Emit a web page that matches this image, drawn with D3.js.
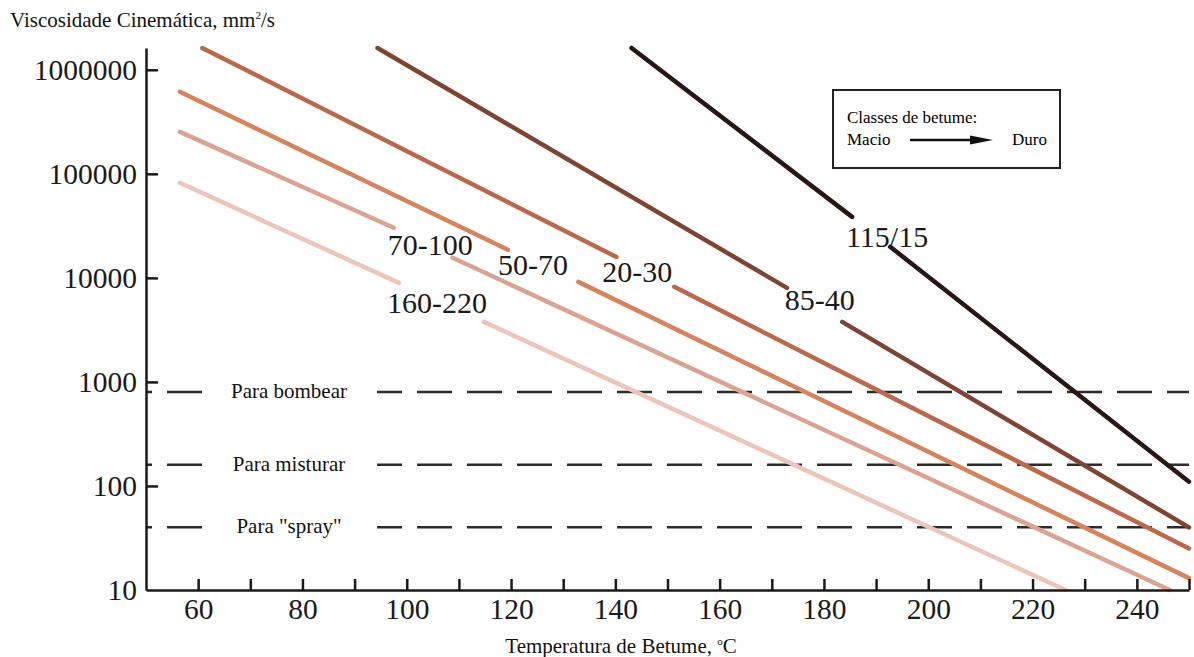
<!DOCTYPE html>
<html lang="pt">
<head>
    <meta charset="UTF-8">
    <title>Viscosidade do betume</title>
    <script src="https://d3js.org/d3.v7.min.js"></script>
    <style>
        body {
            margin: 0;
            background: #fff;
            font-family: "Liberation Serif", "Times New Roman", serif;
        }
        svg {
            display: block;
        }
        .tick line {
            stroke: #1a1a1a;
            stroke-width: 2.5;
        }
    </style>
</head>
<body>

    <div id="container"></div>

    <script>
        // bitumen grades, soft -> hard
        const grades = ['160-220', '70-100', '50-70', '20-30', '85-40', '115/15'];

        // [temperature °C, viscosity mm²/s]; null marks the gap where the label sits
        const visc160_220 = [[56.5, 82000], [98.5, 8950], [null, null], [114.8, 3780], [226.3, 10]];
        const visc70_100  = [[56.5, 253000], [97.5, 30300], [null, null], [108.8, 15600], [246.3, 10]];
        const visc50_70   = [[56.5, 614000], [119.4, 18600], [null, null], [132.9, 9150], [250, 13]];
        const visc20_30   = [[60.8, 1620000], [140.2, 15900], [null, null], [151.3, 8200], [250, 25]];
        const visc85_40   = [[94.4, 1620000], [172.9, 8020], [null, null], [183.5, 3780], [250, 40]];
        const visc115_15  = [[143.1, 1620000], [185.4, 38600], [null, null], [192.7, 19900], [250, 110]];

        // horizontal limits
        const limitNames  = ['Para bombear', 'Para misturar', 'Para "spray"'];
        const limitValues = [800, 160, 40];

        // axis ticks
        const xTicks = [60, 70, 80, 90, 100, 110, 120, 130, 140, 150, 160, 170, 180, 190, 200, 210, 220, 230, 240, 250];
        const xTickLabels = [60, 80, 100, 120, 140, 160, 180, 200, 220, 240];
        const yTicks = [10, 100, 1000, 10000, 100000, 1000000];

        const series = [visc160_220, visc70_100, visc50_70, visc20_30, visc85_40, visc115_15];
        const colors = ['#ebc6b9', '#d9a492', '#d2855f', '#b9694c', '#7d4534', '#2a1515'];
        // where each grade label is placed (data units, text baseline)
        const labelAt = [[105.8, 4590], [104.5, 16600], [124.2, 10700], [144.2, 9120], [179.2, 4910], [192.1, 19800]];

        const width = 1194, height = 657;

        const svg = d3.select('#container').append('svg')
            .attr('width', width)
            .attr('height', height);

        const x = d3.scaleLinear()
            .domain([50, 250])
            .range([146, 1189]);

        const y = d3.scaleLog()
            .domain([10, 1620000])
            .range([590, 48]);

        // dashed limit lines
        svg.selectAll('.limit')
            .data(limitValues)
            .enter()
            .append('line')
            .attr('class', 'limit')
            .attr('x1', x(50))
            .attr('x2', x(250))
            .attr('y1', d => y(d))
            .attr('y2', d => y(d))
            .attr('stroke', '#2b2b2b')
            .attr('stroke-width', 2.5)
            .attr('stroke-dasharray', '35,15')
            .attr('stroke-dashoffset', 29);

        // white boxes + labels on the dashed lines
        svg.selectAll('.limitBox')
            .data(limitValues)
            .enter()
            .append('rect')
            .attr('x', 202)
            .attr('width', 175)
            .attr('y', d => y(d) - 12)
            .attr('height', 24)
            .attr('fill', '#fff');

        svg.selectAll('.limitText')
            .data(limitNames)
            .enter()
            .append('text')
            .attr('x', 289)
            .attr('y', (d, i) => y(limitValues[i]) + 6)
            .attr('text-anchor', 'middle')
            .attr('font-size', 21)
            .attr('fill', '#111')
            .text(d => d);

        // viscosity lines
        const line = d3.line()
            .defined(d => d[0] != null)
            .x(d => x(d[0]))
            .y(d => y(d[1]));

        svg.selectAll('.grade')
            .data(series)
            .enter()
            .append('path')
            .attr('class', 'grade')
            .attr('d', line)
            .attr('fill', 'none')
            .attr('stroke', (d, i) => colors[i])
            .attr('stroke-width', 4.5)
            .attr('stroke-linecap', 'round');

        svg.selectAll('.gradeText')
            .data(grades)
            .enter()
            .append('text')
            .attr('x', (d, i) => x(labelAt[i][0]))
            .attr('y', (d, i) => y(labelAt[i][1]))
            .attr('text-anchor', 'middle')
            .attr('font-size', 30)
            .attr('fill', '#1a1a1a')
            .text(d => d);

        // axes
        const xAxis = svg.append('g')
            .attr('transform', 'translate(0,' + y(10) + ')')
            .call(d3.axisBottom(x)
                .tickValues(xTicks)
                .tickSizeInner(-11)
                .tickSizeOuter(0)
                .tickPadding(8)
                .tickFormat(d => xTickLabels.includes(d) ? d : ''));

        const yAxis = svg.append('g')
            .attr('transform', 'translate(' + x(50) + ',0)')
            .call(d3.axisLeft(y)
                .tickValues(yTicks)
                .tickSizeInner(-12)
                .tickSizeOuter(0)
                .tickPadding(9)
                .tickFormat(d3.format('d')));

        [xAxis, yAxis].forEach(g => {
            g.select('.domain').attr('stroke', '#1a1a1a').attr('stroke-width', 2.5);
            g.selectAll('text')
                .attr('font-family', '"Liberation Serif", serif')
                .attr('font-size', 29.5)
                .attr('fill', '#1a1a1a');
        });
        yAxis.selectAll('.tick').filter(d => d === 10).select('line').remove();

        // axis titles
        const yTitle = svg.append('text')
            .attr('x', 10)
            .attr('y', 27)
            .attr('font-size', 21)
            .attr('fill', '#111');
        yTitle.append('tspan').text('Viscosidade Cinemática, mm');
        yTitle.append('tspan').attr('font-size', 11).attr('dy', -8).text('2');
        yTitle.append('tspan').attr('dy', 8).text('/s');

        const xTitle = svg.append('text')
            .attr('x', 621)
            .attr('y', 653)
            .attr('text-anchor', 'middle')
            .attr('font-size', 21)
            .attr('fill', '#111');
        xTitle.append('tspan').text('Temperatura de Betume, ');
        xTitle.append('tspan').attr('font-size', 11).attr('dy', -8).text('o');
        xTitle.append('tspan').attr('dy', 8).text('C');

        // legend box
        const legend = svg.append('g');
        legend.append('rect')
            .attr('x', 833).attr('y', 90)
            .attr('width', 227).attr('height', 78)
            .attr('fill', '#fff')
            .attr('stroke', '#222')
            .attr('stroke-width', 2);
        legend.append('text')
            .attr('x', 847).attr('y', 123)
            .attr('font-size', 17)
            .text('Classes de betume:');
        legend.append('text')
            .attr('x', 847).attr('y', 145)
            .attr('font-size', 17)
            .text('Macio');
        legend.append('text')
            .attr('x', 1012).attr('y', 145)
            .attr('font-size', 17)
            .text('Duro');
        legend.append('line')
            .attr('x1', 910).attr('x2', 975)
            .attr('y1', 140).attr('y2', 140)
            .attr('stroke', '#111')
            .attr('stroke-width', 2.5);
        legend.append('path')
            .attr('d', 'M970,135.5 L993,140 L970,144.5 Z')
            .attr('fill', '#111');
    </script>
</body>
</html>
